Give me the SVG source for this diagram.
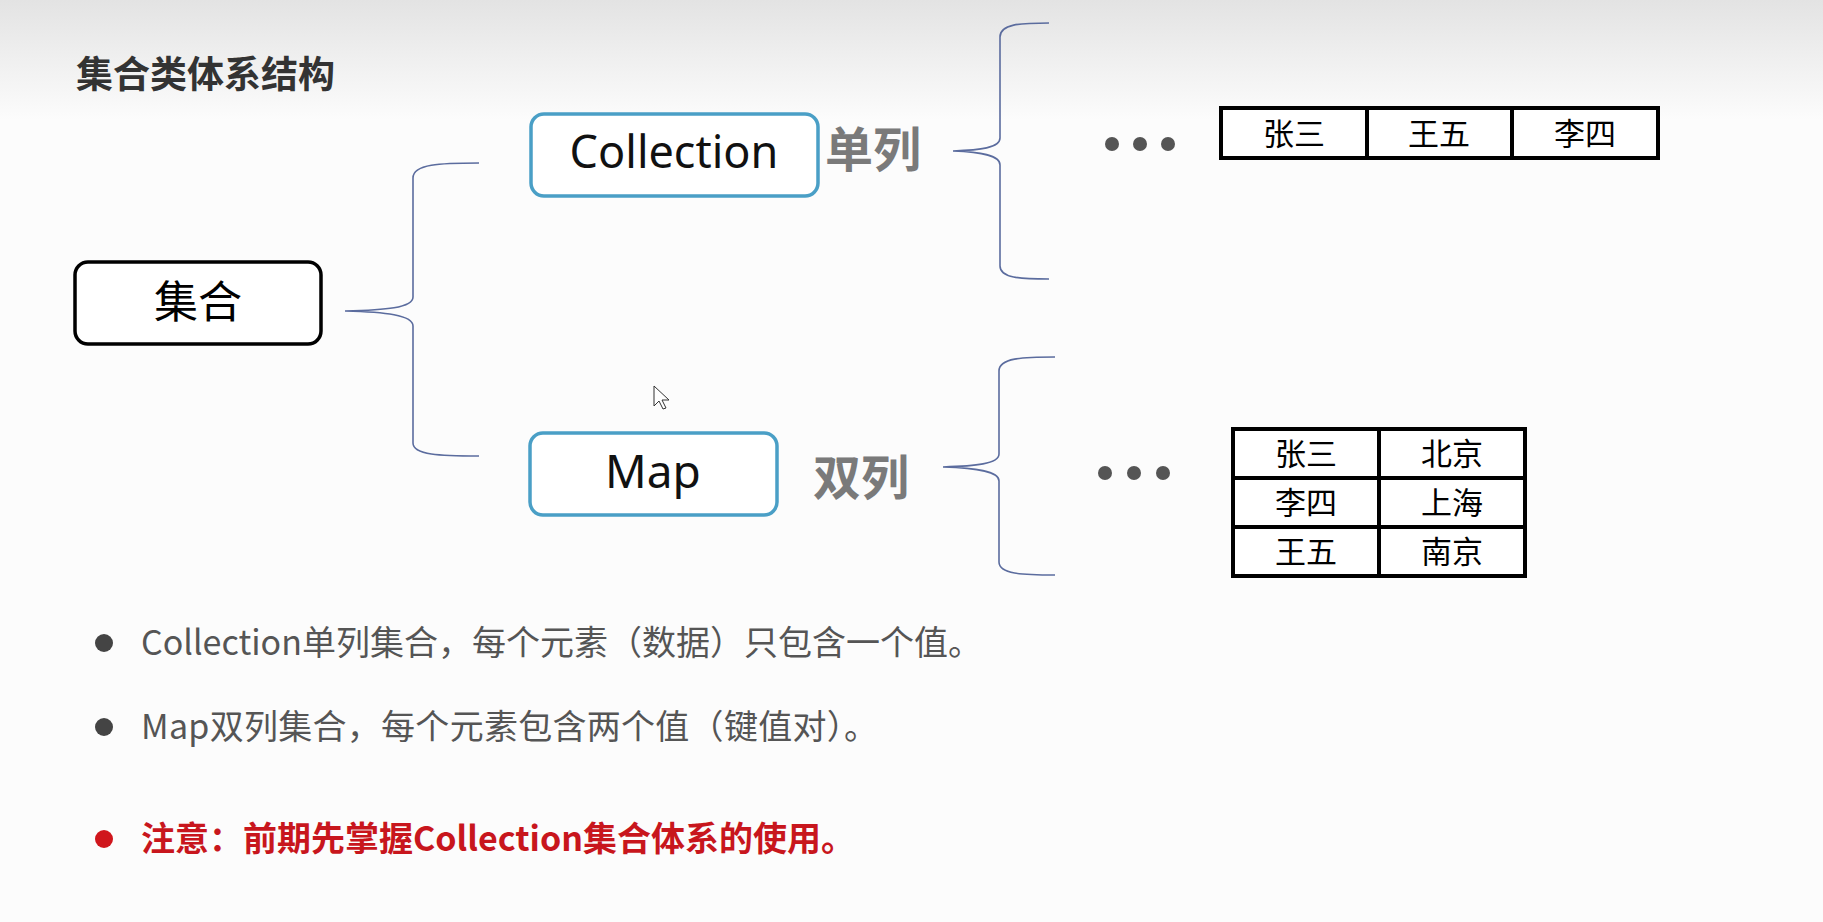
<svg xmlns="http://www.w3.org/2000/svg" width="1823" height="922" viewBox="0 0 1823 922">
<defs>
<linearGradient id="bg" x1="0" y1="0" x2="0" y2="1">
<stop offset="0" stop-color="#e3e3e3"/>
<stop offset="1" stop-color="#fcfcfc"/>
</linearGradient>
<style>
.cjk{font-family:"Noto Sans CJK SC","Noto Sans",sans-serif}
.lat{font-family:"Noto Sans","Open Sans",sans-serif}
.brace{fill:none;stroke:#5b6c9e;stroke-width:1.6}
.blue{fill:#fff;stroke:#4a9fc6;stroke-width:3.5}
.cell{fill:#fff;stroke:#000;stroke-width:4}
.celltxt{font-family:"Noto Sans CJK SC",sans-serif;font-size:31px;fill:#000;text-anchor:middle}
.side{font-family:"Noto Sans CJK SC",sans-serif;font-size:48px;font-weight:bold;fill:#7a7a7a}
.bul{font-family:"Noto Sans CJK SC",sans-serif;font-size:34px;fill:#555}
.warn{font-family:"Noto Sans CJK SC",sans-serif;font-size:34px;font-weight:bold;fill:#c8161d}
.dot{fill:#555}
</style>
</defs>
<rect width="1823" height="922" fill="#fcfcfc"/>
<rect width="1823" height="120" fill="url(#bg)"/>
<text x="76" y="88" class="cjk" font-size="37" font-weight="bold" fill="#333">集合类体系结构</text>

<g id="connectors">
<path class="brace" d="M479,163 C440,163 413,164 413,178 L413,297 C413,308 385,310 345,311 C385,312 413,315 413,326 L413,443 C413,455 440,456 479,456"/>
<path class="brace" d="M1049,23 C1020,23 1000,24 1000,37 L1000,138 C1000,148 980,150 953,151 C980,152 1000,155 1000,165 L1000,266 C1000,278 1020,279 1049,279"/>
<path class="brace" d="M1055,357 C1022,357 999,358 999,371 L999,454 C999,464 975,466 943,467 C975,468 999,471 999,481 L999,562 C999,574 1022,575 1055,575"/>
</g>

<g id="node-jihe">
<rect x="75" y="262" width="246" height="82" rx="13" fill="#fff" stroke="#000" stroke-width="3.5"/>
<text x="198" y="318" class="cjk" font-size="44" text-anchor="middle" fill="#000">集合</text>
</g>

<g id="node-collection">
<rect x="531" y="114" width="287" height="82" rx="13" class="blue"/>
<text x="674" y="168" class="lat" font-size="45" text-anchor="middle" fill="#111">Collection</text>
</g>
<g id="label-danlie"><text x="825" y="167" class="side">单列</text></g>

<g id="node-map">
<rect x="530" y="433" width="247" height="82" rx="13" class="blue"/>
<text x="653" y="488" class="lat" font-size="46" text-anchor="middle" fill="#111">Map</text>
</g>
<g id="label-shuanglie"><text x="813" y="495" class="side">双列</text></g>

<g id="dots1">
<circle cx="1112" cy="144" r="7" class="dot"/>
<circle cx="1140" cy="144" r="7" class="dot"/>
<circle cx="1168" cy="144" r="7" class="dot"/>
</g>
<g id="table-single">
<rect x="1221" y="108" width="146" height="50" class="cell"/>
<rect x="1367" y="108" width="145" height="50" class="cell"/>
<rect x="1512" y="108" width="146" height="50" class="cell"/>
<text x="1294" y="145" class="celltxt">张三</text>
<text x="1439" y="145" class="celltxt">王五</text>
<text x="1585" y="145" class="celltxt">李四</text>
</g>

<g id="dots2">
<circle cx="1105" cy="473" r="7" class="dot"/>
<circle cx="1134" cy="473" r="7" class="dot"/>
<circle cx="1163" cy="473" r="7" class="dot"/>
</g>
<g id="table-double">
<rect x="1233" y="429" width="146" height="49" class="cell"/>
<rect x="1379" y="429" width="146" height="49" class="cell"/>
<rect x="1233" y="478" width="146" height="49" class="cell"/>
<rect x="1379" y="478" width="146" height="49" class="cell"/>
<rect x="1233" y="527" width="146" height="49" class="cell"/>
<rect x="1379" y="527" width="146" height="49" class="cell"/>
<text x="1306" y="465" class="celltxt">张三</text>
<text x="1452" y="465" class="celltxt">北京</text>
<text x="1306" y="514" class="celltxt">李四</text>
<text x="1452" y="514" class="celltxt">上海</text>
<text x="1306" y="563" class="celltxt">王五</text>
<text x="1452" y="563" class="celltxt">南京</text>
</g>

<path d="M654,386 L654,406 L659,401 L663,409 L666,408 L662,400 L669,400 Z" fill="#fff" stroke="#333" stroke-width="1"/>

<g id="bullets">
<circle cx="104" cy="643" r="9" fill="#444"/>
<text x="141" y="655" class="bul">Collection单列集合，每个元素（数据）只包含一个值。</text>
<circle cx="104" cy="727" r="9" fill="#444"/>
<text x="141" y="739" class="bul" textLength="737">Map双列集合，每个元素包含两个值（键值对）。</text>
<circle cx="104" cy="839" r="9" fill="#d0161c"/>
<text x="141" y="851" class="warn">注意：前期先掌握Collection集合体系的使用。</text>
</g>
</svg>
